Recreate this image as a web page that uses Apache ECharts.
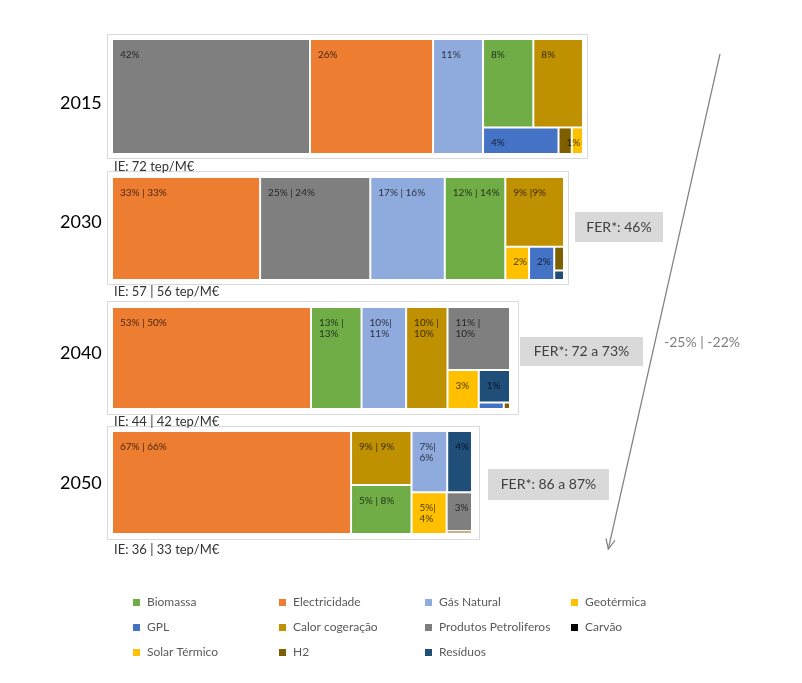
<!DOCTYPE html>
<html><head><meta charset="utf-8">
<script src="https://cdn.jsdelivr.net/npm/echarts@6/dist/echarts.min.js"></script>
<style>html,body{margin:0;padding:0;background:#fff}#c{width:802px;height:683px}</style>
</head><body><div id="c"></div>
<script>
// Legend categories and their colours
const categories = ['Biomassa','Electricidade','Gás Natural','Geotérmica','GPL','Calor cogeração','Produtos Petroliferos','Carvão','Solar Térmico','H2','Resíduos'];
const catColors  = ['#70AD47','#ED7D31','#8FAADC','#FFC000','#4472C4','#BF9000','#7F7F7F','#000000','#FFC000','#7F6000','#1F4E79'];

const years     = ['2015','2030','2040','2050'];
const ieLabels  = ['IE: 72 tep/M€','IE: 57 | 56 tep/M€','IE: 44 | 42 tep/M€','IE: 36 | 33 tep/M€'];
const ferLabels = ['', 'FER*: 46%', 'FER*: 72 a 73%', 'FER*: 86 a 87%'];
const changeLabel = '-25% | -22%';

// 2015
const cells2015  = ['Produtos Petroliferos','Electricidade','Gás Natural','Biomassa','Calor cogeração','GPL','H2','Solar Térmico'];
const values2015 = [42.0, 26.1, 10.6, 8.2, 8.1, 3.7, 0.65, 0.55];
const labels2015 = ['42%','26%','11%','8%','8%','4%','1%',''];
const groups2015 = [0, 1, 2, [3, 4, [5, [6, 7]]]];

// 2030
const cells2030  = ['Electricidade','Produtos Petroliferos','Gás Natural','Biomassa','Calor cogeração','Solar Térmico','GPL','H2','Resíduos'];
const values2030 = [32.8, 24.4, 16.5, 13.4, 8.8, 1.7, 1.8, 0.5, 0.2];
const labels2030 = ['33% | 33%','25% | 24%','17% | 16%','12% | 14%','9% |9%','2%','2%','',''];
const groups2030 = [0, 1, 2, 3, [4, [5, [6, [7, 8]]]]];

// 2040
const cells2040  = ['Electricidade','Biomassa','Gás Natural','Calor cogeração','Produtos Petroliferos','Solar Térmico','Resíduos','GPL','H2'];
const values2040 = [50.0, 12.7, 11.2, 10.4, 9.7, 3.0, 2.5, 0.4, 0.1];
const labels2040 = ['53% | 50%','13% |\n13%','10%|\n11%','10% |\n10%','11% |\n10%','3%','1%','',''];
const groups2040 = [0, 1, 2, 3, [4, [5, [6, [7, 8]]]]];

// 2050
const cells2050  = ['Electricidade','Calor cogeração','Biomassa','Gás Natural','Resíduos','Solar Térmico','Produtos Petroliferos','H2'];
const values2050 = [66.4, 8.8, 8.0, 5.9, 4.1, 3.95, 2.65, 0.2];
const labels2050 = ['67% | 66%','9% | 9%','5% | 8%','7%|\n6%','4%','5%|\n4%','3%',''];
const groups2050 = [0, [1, 2], 3, 4, 5, [6, 7]];

function buildNodes(struct, names, values, labels) {
  return struct.map(function (s) {
    if (Array.isArray(s)) return { name: '', children: buildNodes(s, names, values, labels) };
    const ci = categories.indexOf(names[s]);
    return { name: names[s], value: values[s], lbl: labels[s], itemStyle: { color: catColors[ci] } };
  });
}

const yearData = [
  buildNodes(groups2015, cells2015, values2015, labels2015),
  buildNodes(groups2030, cells2030, values2030, labels2030),
  buildNodes(groups2040, cells2040, values2040, labels2040),
  buildNodes(groups2050, cells2050, values2050, labels2050)
];

const boxes  = [[113, 40, 469, 113], [113, 178, 450, 101], [113, 308, 396, 100], [113, 432, 358, 101]];
const ratios = [1.22, 0.8, 0.8, 1.28];
const frames = [[107.5, 34.5, 480, 124], [107.5, 171.5, 461, 113], [107.5, 301.5, 411, 113], [107.5, 426.5, 372, 113]];
const yearY  = [103, 222, 353, 483];
const ieY    = [167, 292, 422, 550];
const ferBox = [null, [575, 212, 88, 30], [520, 337, 123, 29], [488, 469, 121, 31]];

const series = yearData.map(function (d, i) {
  return {
    type: 'treemap',
    left: boxes[i][0], top: boxes[i][1], width: boxes[i][2], height: boxes[i][3],
    squareRatio: ratios[i], sort: false, roam: false, nodeClick: false,
    breadcrumb: { show: false },
    itemStyle: { gapWidth: 2, borderWidth: 0, borderColor: '#fff' },
    upperLabel: { show: false },
    label: {
      show: true, position: 'insideTopLeft', overflow: 'none',
      formatter: function (p) { return (p.data && p.data.lbl) || ''; },
      fontFamily: 'Lato', fontSize: 10, lineHeight: 11,
      color: 'rgba(0,0,0,0.72)', padding: [9, 4, 0, 7]
    },
    emphasis: { disabled: true },
    data: d
  };
});

const graphics = [];
frames.forEach(function (f) {
  graphics.push({ type: 'rect', silent: true, shape: { x: f[0], y: f[1], width: f[2], height: f[3] }, style: { fill: 'none', stroke: '#d9d9d9', lineWidth: 1 } });
});
years.forEach(function (y, i) {
  graphics.push({ type: 'text', silent: true, x: 60, y: yearY[i], style: { text: y, font: '18px Lato', fill: '#000', align: 'left', textAlign: 'left', verticalAlign: 'middle', textVerticalAlign: 'middle' } });
  graphics.push({ type: 'text', silent: true, x: 114, y: ieY[i], style: { text: ieLabels[i], font: '13px Lato', fill: '#333', align: 'left', textAlign: 'left', verticalAlign: 'middle', textVerticalAlign: 'middle' } });
  if (ferBox[i]) {
    const b = ferBox[i];
    graphics.push({ type: 'rect', silent: true, shape: { x: b[0], y: b[1], width: b[2], height: b[3] }, style: { fill: '#d9d9d9' } });
    graphics.push({ type: 'text', silent: true, x: b[0] + b[2] / 2, y: b[1] + b[3] / 2, style: { text: ferLabels[i], font: '14px Lato', fill: '#404040', align: 'center', textAlign: 'center', verticalAlign: 'middle', textVerticalAlign: 'middle' } });
  }
});
graphics.push({ type: 'text', silent: true, x: 664, y: 342, style: { text: changeLabel, font: '14px Lato', fill: '#7f7f7f', align: 'left', textAlign: 'left', verticalAlign: 'middle', textVerticalAlign: 'middle' } });
graphics.push({ type: 'polyline', silent: true, shape: { points: [[720, 54], [608.3, 549]] }, style: { stroke: '#808080', lineWidth: 1.2, fill: null } });
graphics.push({ type: 'polyline', silent: true, shape: { points: [[615, 540.3], [608.3, 549], [606, 538.3]] }, style: { stroke: '#808080', lineWidth: 1.2, fill: null } });

categories.forEach(function (c, i) {
  const col = i % 4, row = Math.floor(i / 4);
  graphics.push({ type: 'rect', silent: true, shape: { x: 133 + col * 146, y: 599 + row * 25, width: 7, height: 7 }, style: { fill: catColors[i] } });
  graphics.push({ type: 'text', silent: true, x: 147 + col * 146, y: 602.5 + row * 25, style: { text: c, font: '12px Lato', fill: '#595959', align: 'left', textAlign: 'left', verticalAlign: 'middle', textVerticalAlign: 'middle' } });
});

const chart = echarts.init(document.getElementById('c'));
chart.setOption({
  animation: false,
  backgroundColor: '#fff',
  graphic: { elements: graphics },
  series: series
});
</script>
</body></html>
